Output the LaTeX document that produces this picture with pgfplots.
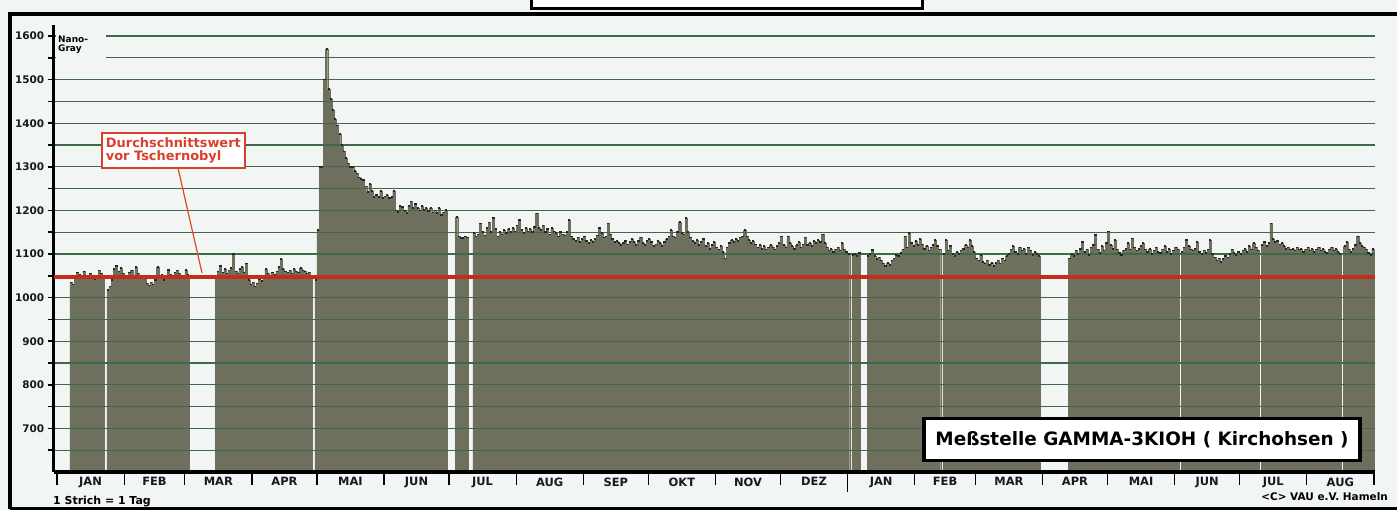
\documentclass[border=0pt]{standalone}
\usepackage{fontspec}
\setmainfont{DejaVu Sans}
\usepackage{pgfplots}
\usepackage{pgfplotstable}
\pgfplotsset{compat=1.18}

\definecolor{bg}{HTML}{F1F5F3}
\definecolor{barfill}{HTML}{6E705D}
\definecolor{gridgreen}{HTML}{3F6A47}
\definecolor{avgred}{HTML}{C22E1C}
\definecolor{notered}{HTML}{D8402C}

% daily values in nGy/h, day 0 = 1 Jan 1986
\pgfplotstableread[row sep=\\]{
d v\\
6 1035\\ 7 1030\\ 8 1045\\ 9 1058\\ 10 1052\\ 11 1048\\ 12 1060\\ 13 1050\\ 14 1045\\ 15 1055\\
16 1048\\ 17 1042\\ 18 1050\\ 19 1062\\ 20 1055\\ 21 1045\\
23 1018\\ 24 1025\\ 25 1040\\ 26 1065\\ 27 1072\\ 28 1060\\ 29 1068\\ 30 1055\\ 31 1050\\ 32 1045\\
33 1058\\ 34 1062\\ 35 1048\\ 36 1070\\ 37 1055\\ 38 1050\\ 39 1045\\ 40 1050\\ 41 1032\\ 42 1028\\
43 1035\\ 44 1030\\ 45 1040\\ 46 1070\\ 47 1048\\ 48 1052\\ 49 1040\\ 50 1045\\ 51 1063\\ 52 1052\\
53 1048\\ 54 1058\\ 55 1062\\ 56 1055\\ 57 1045\\ 58 1050\\ 59 1063\\ 60 1052\\
73 1050\\ 74 1060\\ 75 1072\\ 76 1058\\ 77 1065\\ 78 1055\\ 79 1062\\ 80 1068\\ 81 1100\\ 82 1060\\
83 1055\\ 84 1065\\ 85 1070\\ 86 1058\\ 87 1078\\ 88 1040\\ 89 1030\\ 90 1035\\ 91 1025\\ 92 1032\\
93 1042\\ 94 1038\\ 95 1045\\ 96 1065\\ 97 1055\\ 98 1050\\ 99 1058\\ 100 1052\\ 101 1060\\ 102 1070\\
103 1088\\ 104 1065\\ 105 1060\\ 106 1058\\ 107 1062\\ 108 1055\\ 109 1065\\ 110 1060\\ 111 1058\\ 112 1068\\
113 1062\\ 114 1060\\ 115 1055\\ 116 1058\\ 117 1050\\
}\tabA

\pgfplotstableread[row sep=\\]{
d v\\
119 1040\\ 120 1155\\ 121 1300\\ 122 1300\\ 123 1500\\ 124 1570\\ 125 1478\\ 126 1455\\ 127 1430\\ 128 1410\\
129 1395\\ 130 1375\\ 131 1350\\ 132 1335\\ 133 1320\\ 134 1308\\ 135 1300\\ 136 1300\\ 137 1290\\ 138 1285\\
139 1275\\ 140 1272\\ 141 1270\\ 142 1255\\ 143 1242\\ 144 1260\\ 145 1245\\ 146 1231\\ 147 1235\\ 148 1231\\
149 1245\\ 150 1228\\ 151 1232\\ 152 1235\\ 153 1228\\ 154 1231\\ 155 1245\\ 156 1200\\ 157 1196\\ 158 1210\\
159 1208\\ 160 1198\\ 161 1194\\ 162 1210\\ 163 1220\\ 164 1205\\ 165 1215\\ 166 1206\\ 167 1200\\ 168 1210\\
169 1201\\ 170 1205\\ 171 1198\\ 172 1205\\ 173 1195\\ 174 1200\\ 175 1194\\ 176 1205\\ 177 1190\\ 178 1195\\
179 1201\\
184 1185\\ 185 1140\\ 186 1137\\ 187 1137\\ 188 1140\\ 189 1138\\
}\tabB

\pgfplotstableread[row sep=\\]{
d v\\
192 1148\\ 193 1140\\ 194 1145\\ 195 1170\\ 196 1150\\ 197 1142\\ 198 1160\\ 199 1172\\ 200 1150\\ 201 1182\\
202 1158\\ 203 1140\\ 204 1150\\ 205 1145\\ 206 1155\\ 207 1148\\ 208 1158\\ 209 1150\\ 210 1160\\ 211 1152\\
212 1165\\ 213 1178\\ 214 1155\\ 215 1148\\ 216 1160\\ 217 1152\\ 218 1158\\ 219 1150\\ 220 1162\\ 221 1193\\
222 1160\\ 223 1155\\ 224 1165\\ 225 1150\\ 226 1158\\ 227 1145\\ 228 1160\\ 229 1152\\ 230 1148\\ 231 1140\\
232 1150\\ 233 1145\\ 234 1142\\ 235 1150\\ 236 1178\\ 237 1140\\ 238 1135\\ 239 1130\\ 240 1138\\ 241 1128\\
242 1135\\ 243 1140\\ 244 1130\\ 245 1125\\ 246 1132\\ 247 1128\\ 248 1135\\ 249 1142\\ 250 1160\\ 251 1148\\
252 1138\\ 253 1140\\ 254 1170\\ 255 1145\\ 256 1135\\ 257 1128\\ 258 1130\\ 259 1125\\ 260 1120\\ 261 1125\\
262 1130\\ 263 1122\\ 264 1128\\ 265 1135\\ 266 1128\\ 267 1120\\ 268 1130\\ 269 1138\\ 270 1125\\ 271 1120\\
272 1130\\ 273 1135\\ 274 1128\\ 275 1118\\ 276 1122\\ 277 1130\\ 278 1125\\ 279 1118\\ 280 1128\\ 281 1135\\
282 1140\\ 283 1155\\ 284 1140\\ 285 1138\\ 286 1150\\ 287 1174\\ 288 1148\\ 289 1145\\ 290 1182\\ 291 1150\\
292 1138\\ 293 1130\\ 294 1125\\ 295 1132\\ 296 1120\\ 297 1128\\ 298 1135\\ 299 1118\\ 300 1125\\ 301 1112\\
302 1120\\ 303 1128\\ 304 1115\\ 305 1110\\ 306 1118\\ 307 1105\\ 308 1090\\ 309 1115\\ 310 1125\\ 311 1132\\
312 1128\\ 313 1135\\ 314 1130\\ 315 1138\\ 316 1140\\ 317 1155\\ 318 1140\\ 319 1132\\ 320 1125\\ 321 1130\\
322 1122\\ 323 1115\\ 324 1120\\ 325 1112\\ 326 1118\\ 327 1110\\ 328 1115\\ 329 1120\\ 330 1115\\ 331 1110\\
332 1118\\ 333 1125\\ 334 1140\\ 335 1120\\ 336 1115\\ 337 1140\\ 338 1125\\ 339 1118\\ 340 1112\\ 341 1120\\
342 1128\\ 343 1115\\ 344 1122\\ 345 1138\\ 346 1120\\ 347 1125\\ 348 1118\\ 349 1130\\ 350 1125\\ 351 1132\\
352 1128\\ 353 1145\\ 354 1125\\ 355 1115\\ 356 1108\\ 357 1112\\ 358 1105\\ 359 1110\\ 360 1115\\ 361 1108\\
362 1125\\ 363 1110\\ 364 1105\\ 365 1100\\
367 1098\\ 368 1100\\ 369 1095\\ 370 1102\\
}\tabC

\pgfplotstableread[row sep=\\]{
d v\\
374 1095\\ 375 1100\\ 376 1109\\ 377 1095\\ 378 1088\\ 379 1092\\ 380 1085\\ 381 1078\\ 382 1072\\ 383 1080\\
384 1075\\ 385 1085\\ 386 1090\\ 387 1098\\ 388 1095\\ 389 1102\\ 390 1110\\ 391 1140\\ 392 1115\\ 393 1148\\
394 1125\\ 395 1118\\ 396 1130\\ 397 1120\\ 398 1135\\ 399 1122\\ 400 1112\\ 401 1118\\ 402 1108\\ 403 1115\\
404 1120\\ 405 1132\\ 406 1118\\ 407 1110\\
409 1100\\ 410 1132\\ 411 1108\\ 412 1118\\ 413 1100\\ 414 1095\\ 415 1105\\ 416 1100\\ 417 1108\\ 418 1112\\
419 1120\\ 420 1115\\ 421 1132\\ 422 1118\\ 423 1105\\ 424 1090\\ 425 1085\\ 426 1098\\ 427 1082\\ 428 1078\\
429 1085\\ 430 1075\\ 431 1080\\ 432 1072\\ 433 1080\\ 434 1085\\ 435 1078\\ 436 1090\\ 437 1085\\ 438 1095\\
439 1100\\ 440 1110\\ 441 1118\\ 442 1105\\ 443 1100\\ 444 1115\\ 445 1108\\ 446 1112\\ 447 1100\\ 448 1115\\
449 1108\\ 450 1098\\ 451 1105\\ 452 1100\\ 453 1095\\
467 1090\\ 468 1100\\ 469 1095\\ 470 1108\\ 471 1100\\ 472 1112\\ 473 1128\\ 474 1105\\ 475 1110\\ 476 1098\\
477 1115\\ 478 1120\\ 479 1144\\ 480 1110\\ 481 1102\\ 482 1118\\ 483 1108\\ 484 1125\\ 485 1152\\ 486 1120\\
487 1112\\ 488 1132\\ 489 1110\\ 490 1102\\ 491 1098\\ 492 1108\\ 493 1112\\ 494 1125\\ 495 1110\\ 496 1136\\
497 1115\\ 498 1108\\ 499 1112\\ 500 1118\\ 501 1125\\ 502 1110\\ 503 1105\\ 504 1112\\ 505 1100\\ 506 1108\\
507 1115\\ 508 1105\\ 509 1102\\ 510 1110\\ 511 1118\\ 512 1105\\ 513 1112\\ 514 1100\\ 515 1108\\ 516 1115\\
517 1110\\
519 1105\\ 520 1115\\ 521 1132\\ 522 1118\\ 523 1110\\ 524 1108\\ 525 1112\\ 526 1128\\ 527 1105\\ 528 1100\\
529 1108\\ 530 1102\\ 531 1110\\ 532 1132\\ 533 1100\\ 534 1092\\ 535 1085\\ 536 1090\\ 537 1082\\ 538 1088\\
539 1095\\ 540 1092\\ 541 1100\\ 542 1110\\ 543 1102\\ 544 1098\\ 545 1105\\ 546 1100\\ 547 1108\\ 548 1112\\
549 1105\\ 550 1118\\ 551 1110\\ 552 1125\\ 553 1115\\ 554 1108\\
556 1120\\ 557 1128\\ 558 1118\\ 559 1125\\ 560 1170\\ 561 1135\\ 562 1128\\ 563 1130\\ 564 1122\\ 565 1125\\
566 1118\\ 567 1112\\ 568 1115\\ 569 1110\\ 570 1112\\ 571 1108\\ 572 1115\\ 573 1110\\ 574 1112\\ 575 1105\\
576 1110\\ 577 1115\\ 578 1108\\ 579 1112\\ 580 1105\\ 581 1110\\ 582 1115\\ 583 1108\\ 584 1112\\ 585 1105\\
586 1102\\ 587 1110\\ 588 1115\\ 589 1108\\ 590 1112\\ 591 1105\\ 592 1100\\
594 1118\\ 595 1128\\ 596 1110\\ 597 1105\\ 598 1112\\ 599 1120\\ 600 1140\\ 601 1125\\ 602 1118\\ 603 1115\\
604 1110\\ 605 1102\\ 606 1098\\ 607 1112\\
}\tabD

\pgfplotsset{
  daybars/.style={ybar, bar width=1, bar shift=0pt, fill=barfill, draw=barfill, line width=0.4bp},
  daycaps/.style={only marks, mark=-, mark size=1.1bp, mark options={line width=1.6bp, draw=black!85}},
}

\begin{document}
\begin{tikzpicture}
\useasboundingbox (0,0) rectangle (1397bp,510bp);
\fill[bg] (0,0) rectangle (1397bp,510bp);
% frame and title box
\draw[line width=3.5bp] (10bp,1bp) -- (10bp,496bp) -- (1402bp,496bp);
\draw[line width=3bp] (10bp,1bp) -- (1402bp,1bp);
\draw[line width=3bp, fill=white] (531bp,501bp) rectangle (922bp,516bp);

\begin{axis}[
  at={(53.75bp,38bp)}, anchor=south west, scale only axis,
  width=1321.26bp, height=446.9bp,
  xmin=-1.5, xmax=608.5, ymin=600, ymax=1625,
  axis on top,
  axis x line=bottom, axis y line=left,
  axis line style={line width=3bp, -},
  every outer x axis line/.append style={-},
  every outer y axis line/.append style={-},
  tick align=outside,
  xtick={15.5,45,74.5,105,135.5,166,196.5,227.5,258,288.5,319,349.5,380.5,410,439.5,470,500.5,531,561.5,592.5},
  xticklabels={JAN,FEB,MAR,APR,MAI,JUN,JUL,AUG,SEP,OKT,NOV,DEZ,JAN,FEB,MAR,APR,MAI,JUN,JUL,AUG},
  major x tick style={draw=none},
  minor xtick={0,31,59,90,120,151,181,212,243,273,304,334,365,396,424,455,485,516,546,577,608},
  minor x tick style={line width=1.2bp, black},
  minor tick length=13bp,
  ytick={650,700,...,1600},
  yticklabels={,700,,800,,900,,1000,,1100,,1200,,1300,,1400,,1500,,1600},
  major tick length=6bp,
  y tick style={line width=1.5bp, black},
  ymajorgrids,
  grid style={gridgreen, line width=1.2bp},
  xticklabel style={font=\bfseries\fontsize{11.5}{12}\selectfont, text=black!90, yshift=4bp},
  yticklabel style={font=\bfseries\fontsize{10.5}{11}\selectfont, text=black!90},
]
\addplot[daybars] table[x expr=\thisrow{d}+0.5, y=v] {\tabA};
\addplot[daybars] table[x expr=\thisrow{d}+0.5, y=v] {\tabB};
\addplot[daybars] table[x expr=\thisrow{d}+0.5, y=v] {\tabC};
\addplot[daybars] table[x expr=\thisrow{d}+0.5, y=v] {\tabD};
\addplot[daycaps] table[x expr=\thisrow{d}+0.5, y=v] {\tabA};
\addplot[daycaps] table[x expr=\thisrow{d}+0.5, y=v] {\tabB};
\addplot[daycaps] table[x expr=\thisrow{d}+0.5, y=v] {\tabC};
\addplot[daycaps] table[x expr=\thisrow{d}+0.5, y=v] {\tabD};
% ends of the pre-Chernobyl average line and the year tick
\coordinate (avg0) at (axis cs:-1.5,1048);
\coordinate (avg1) at (axis cs:608.5,1048);
\coordinate (yr) at (axis cs:365,600);
\end{axis}

\draw[avgred, line width=4bp] (avg0) -- (avg1);
\draw[line width=1.2bp] (yr) -- ++(0,-20bp);

% unit label
\fill[bg] (56bp,448bp) rectangle (106bp,480bp);
\node[anchor=north west, inner sep=0pt, align=left, font=\bfseries\fontsize{9}{8.5}\selectfont] at (58bp,474bp) {Nano-\\Gray};

% annotation
\draw[notered!85!orange, line width=1.2bp] (178bp,342bp) -- (202bp,237bp);
\node[anchor=north west, draw=notered, line width=1.8bp, fill=white, text=notered,
      inner xsep=4bp, inner ysep=4.5bp, align=left,
      font=\bfseries\fontsize{13}{13.5}\selectfont] at (101bp,378bp) {Durchschnittswert\\vor Tschernobyl};

% station box
\node[draw=black, line width=3.5bp, fill=white, minimum width=436bp, minimum height=42bp,
      font=\bfseries\fontsize{18.5}{19}\selectfont] at (1142bp,70.5bp) {Meßstelle GAMMA-3KIOH ( Kirchohsen )};

\node[anchor=west, inner sep=0pt, font=\bfseries\fontsize{11}{11}\selectfont] at (53bp,8bp) {1 Strich = 1 Tag};
\node[anchor=east, inner sep=0pt, font=\bfseries\fontsize{10.5}{11}\selectfont] at (1388bp,13bp) {<C> VAU e.V. Hameln};
\end{tikzpicture}
\end{document}
